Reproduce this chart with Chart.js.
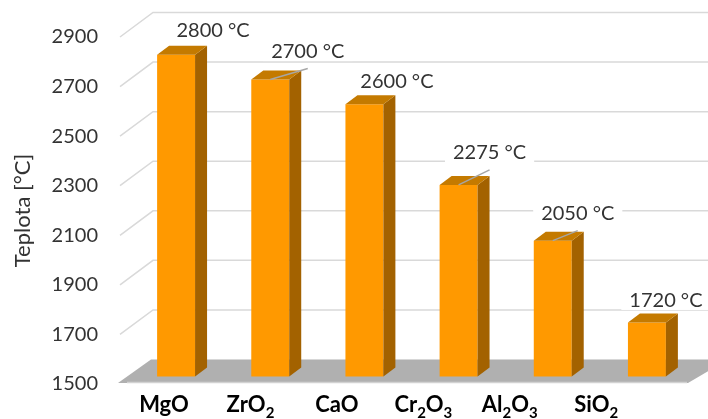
<!DOCTYPE html>
<html>
<head>
<meta charset="utf-8">
<script src="https://cdn.jsdelivr.net/npm/chart.js@4.4.1/dist/chart.umd.min.js"></script>
<style>
  html, body { margin: 0; padding: 0; background: #ffffff; }
  #wrap { width: 708px; height: 419px; position: relative; }
</style>
</head>
<body>
<div id="wrap"><canvas id="chart"></canvas></div>
<script>
// Melting points of refractory oxides
const oxides = ['MgO', 'ZrO₂', 'CaO', 'Cr₂O₃', 'Al₂O₃', 'SiO₂'];
const meltingPoints = [2800, 2700, 2600, 2275, 2050, 1720];
const yTicks = [1500, 1700, 1900, 2100, 2300, 2500, 2700, 2900];
const valueLabels = meltingPoints.map(v => v + ' °C');

// Label placement relative to the bar top (dx, dy) and whether a leader line is drawn
const labelNudge = [[37, -24], [37.5, -28], [32.5, -23], [31, -32], [25, -27], [19, -22]];
const leaderLine = [false, true, false, true, true, false];

// Pseudo-3D geometry
const WALL_DX = 33, WALL_DY = 24.5;   // offset from front plane to back wall
const BAR_LIFT = 7;                    // bars stand slightly behind the front plane
const BAR_DX = 12, BAR_DY = 9;         // bar depth
const FRONT_K = 0.918, FRONT_OX = 29;  // horizontal scaling of the front plane

const FRONT = '#FF9900', TOP = '#C47A00', SIDE = '#A36200';
const GRID = '#D9D9D9', FLOOR = '#B0B0B0', FLOOR_EDGE = '#D2D2D2', TEXT = '#333333';

const subMap = { '₀':'0','₁':'1','₂':'2','₃':'3','₄':'4','₅':'5','₆':'6','₇':'7','₈':'8','₉':'9' };

// Draws a chemical formula with real subscript digits
function drawChemLabel(ctx, text, cx, baseline) {
  const big = 'bold 22px Lato', small = 'bold 15px Lato';
  const parts = [];
  for (const ch of text) {
    const sub = subMap[ch] !== undefined;
    const c = sub ? subMap[ch] : ch;
    const last = parts[parts.length - 1];
    if (last && last.sub === sub) last.t += c; else parts.push({ t: c, sub });
  }
  let total = 0;
  parts.forEach(p => { ctx.font = p.sub ? small : big; p.w = ctx.measureText(p.t).width; total += p.w; });
  let x = cx - total / 2;
  ctx.textAlign = 'left';
  ctx.textBaseline = 'alphabetic';
  parts.forEach(p => {
    ctx.font = p.sub ? small : big;
    ctx.fillText(p.t, x, baseline + (p.sub ? 5.5 : 0));
    x += p.w;
  });
}

const scene3d = {
  id: 'scene3d',
  beforeDatasetsDraw(chart) {
    const { ctx, chartArea: ca, scales: { y } } = chart;
    const W = chart.width;
    const yFloor = y.getPixelForValue(1500);
    ctx.save();
    // floor
    ctx.fillStyle = FLOOR;
    ctx.beginPath();
    ctx.moveTo(ca.left - 11, yFloor - 1);
    ctx.lineTo(ca.left - 11 + WALL_DX, yFloor - WALL_DY);
    ctx.lineTo(W + 20, yFloor - WALL_DY);
    ctx.lineTo(ca.right - 6, yFloor - 1);
    ctx.closePath();
    ctx.fill();
    ctx.strokeStyle = FLOOR_EDGE;
    ctx.lineWidth = 1.5;
    ctx.beginPath();
    ctx.moveTo(ca.left - 2, yFloor - 1.5);
    ctx.lineTo(ca.right - 7, yFloor - 1.5);
    ctx.stroke();
    // gridlines: side wall diagonal + back wall horizontal
    ctx.strokeStyle = GRID;
    ctx.lineWidth = 1.5;
    yTicks.forEach(v => {
      if (v === 1500) return;
      const py = y.getPixelForValue(v);
      ctx.beginPath();
      ctx.moveTo(ca.left - 9, py);
      ctx.lineTo(ca.left - 9 + WALL_DX, py - WALL_DY);
      ctx.lineTo(W, py - WALL_DY);
      ctx.stroke();
    });
    ctx.restore();
    ctx.save();
    ctx.translate(0, -BAR_LIFT);
  },
  afterDatasetsDraw(chart) {
    const { ctx } = chart;
    const meta = chart.getDatasetMeta(0);
    meta.data.forEach(bar => {
      const l = bar.x - bar.width / 2, r = bar.x + bar.width / 2;
      const t = bar.y, b = bar.base;
      ctx.fillStyle = SIDE;
      ctx.beginPath();
      ctx.moveTo(r, t);
      ctx.lineTo(r + BAR_DX, t - BAR_DY);
      ctx.lineTo(r + BAR_DX, b - BAR_DY);
      ctx.lineTo(r, b);
      ctx.closePath();
      ctx.fill();
      ctx.fillStyle = TOP;
      ctx.beginPath();
      ctx.moveTo(l, t);
      ctx.lineTo(l + BAR_DX, t - BAR_DY);
      ctx.lineTo(r + BAR_DX, t - BAR_DY);
      ctx.lineTo(r, t);
      ctx.closePath();
      ctx.fill();
    });
    ctx.restore();

    // value labels
    ctx.save();
    ctx.font = '20px Lato';
    ctx.textAlign = 'center';
    ctx.textBaseline = 'middle';
    meta.data.forEach((bar, i) => {
      const top = bar.y - BAR_LIFT;
      const cx = bar.x + labelNudge[i][0];
      const cy = top + labelNudge[i][1];
      const txt = valueLabels[i];
      const w = ctx.measureText(txt).width;
      ctx.fillStyle = '#ffffff';
      ctx.fillRect(cx - w / 2 - 8, cy - 9.5, w + 16, 19);
      if (leaderLine[i]) {
        ctx.strokeStyle = '#A6A6A6';
        ctx.lineWidth = 1.5;
        ctx.beginPath();
        ctx.moveTo(bar.x, top);
        ctx.lineTo(cx, cy + 17);
        ctx.stroke();
      }
      ctx.fillStyle = TEXT;
      ctx.fillText(txt, cx, cy);
    });
    ctx.restore();
  },
  afterDraw(chart) {
    const { ctx, scales: { x } } = chart;
    ctx.save();
    ctx.fillStyle = '#000000';
    oxides.forEach((name, i) => {
      const px = x.getPixelForTick(i);
      const cx = FRONT_OX + (px - FRONT_OX) * FRONT_K;
      drawChemLabel(ctx, name, cx, 412);
    });
    ctx.restore();
  }
};

new Chart(document.getElementById('chart'), {
  type: 'bar',
  data: {
    labels: oxides,
    datasets: [{
      data: meltingPoints,
      base: 1500,
      backgroundColor: FRONT,
      borderWidth: 0,
      barPercentage: 0.403,
      categoryPercentage: 1
    }]
  },
  options: {
    responsive: true,
    maintainAspectRatio: false,
    animation: false,
    layout: { padding: { top: 37, right: 14, bottom: 35, left: 0 } },
    plugins: { legend: { display: false }, tooltip: { enabled: false } },
    scales: {
      x: { display: false },
      y: {
        min: 1500,
        max: 2900,
        afterBuildTicks: s => { s.ticks = yTicks.map(v => ({ value: v })); },
        // invisible tick marks provide the gap between labels and plot
        grid: {
          display: true,
          drawOnChartArea: false,
          drawTicks: true,
          tickLength: 31,
          color: 'rgba(0,0,0,0)'
        },
        border: { display: false },
        ticks: {
          padding: 0,
          color: TEXT,
          font: { family: 'Lato', size: 20 },
          callback: v => String(v)
        },
        title: {
          display: true,
          text: 'Teplota [°C]',
          color: TEXT,
          font: { family: 'Lato', size: 22 },
          padding: { top: 10, bottom: 0 }
        },
        afterFit: s => { s.width = 129; }
      }
    }
  },
  plugins: [scene3d]
});
</script>
</body>
</html>
